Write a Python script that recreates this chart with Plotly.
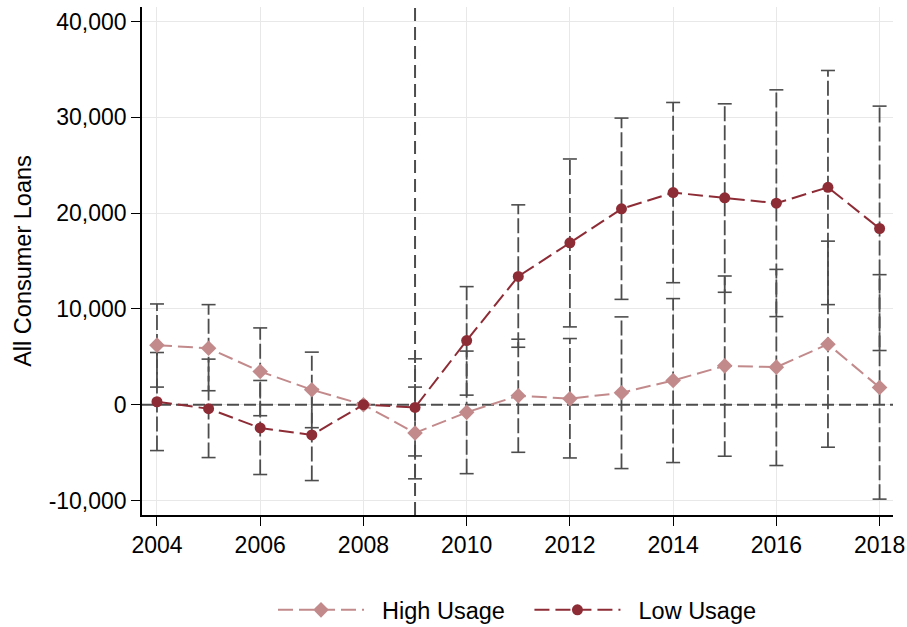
import plotly.graph_objects as go

# Event-study coefficients (year relative to 2008 baseline) with 95% CIs
years = list(range(2004, 2019))

high_usage = [6220, 5900, 3470, 1560, 0, -2950, -800, 940, 625, 1250, 2530, 4060, 3920, 6320, 1800]
high_lo = [1840, 1460, -1150, -2400, None, -7740, -7200, -4970, -5560, -6670, -6040, -5380, -6350, -4440, -9860]
high_hi = [10520, 10450, 8020, 5490, None, 1840, 5600, 6840, 6910, 9170, 11080, 13440, 14130, 17080, 13580]

low_usage = [310, -420, -2430, -3160, 0, -280, 6700, 13400, 16900, 20450, 22150, 21600, 21040, 22700, 18400]
low_lo = [-4790, -5520, -7290, -7920, None, -5350, 1000, 6000, 8125, 11000, 12740, 11740, 9200, 10450, 5660]
low_hi = [5450, 4760, 2530, 1600, None, 4790, 12330, 20870, 25660, 29930, 31560, 31420, 32880, 34900, 31180]

x_ticks = list(range(2004, 2019, 2))
y_ticks = [-10000, 0, 10000, 20000, 30000, 40000]
y_tick_text = ["-10,000", "0", "10,000", "20,000", "30,000", "40,000"]

X_RANGE = [2003.71, 2018.26]
Y_RANGE = [-11517, 41530]
EVENT_YEAR = 2009

HIGH_COLOR = "#C38A8C"
LOW_COLOR = "#8E2C36"
CI_COLOR = "#4D4D4D"
FONT = "Liberation Sans, Arial, Helvetica, sans-serif"
NBSP = "\u00a0"

fig = go.Figure()

# reference lines: zero effect and event year
fig.add_trace(go.Scatter(
    x=X_RANGE, y=[0, 0], mode="lines", showlegend=False, hoverinfo="skip",
    line=dict(color=CI_COLOR, width=2, dash="12px,5px"),
))
fig.add_trace(go.Scatter(
    x=[EVENT_YEAR, EVENT_YEAR], y=Y_RANGE, mode="lines", showlegend=False, hoverinfo="skip",
    line=dict(color=CI_COLOR, width=2, dash="13px,6px"),
))


def add_ci(lo, hi):
    # dashed vertical spans, one segment per year, separated by gaps
    xs, ys = [], []
    cx, cy = [], []
    for yr, a, b in zip(years, lo, hi):
        if a is None or b is None:
            continue
        xs += [yr, yr, None]
        ys += [a, b, None]
        cx += [yr, yr]
        cy += [a, b]
    fig.add_trace(go.Scatter(
        x=xs, y=ys, mode="lines", showlegend=False, hoverinfo="skip",
        line=dict(color=CI_COLOR, width=1.8, dash="15px,4px"),
    ))
    # caps at both ends
    fig.add_trace(go.Scatter(
        x=cx, y=cy, mode="markers", showlegend=False, hoverinfo="skip",
        marker=dict(symbol="line-ew", size=10, color=CI_COLOR,
                    line=dict(color=CI_COLOR, width=1.6)),
    ))


add_ci(high_lo, high_hi)
add_ci(low_lo, low_hi)

fig.add_trace(go.Scatter(
    x=years, y=high_usage, mode="lines+markers",
    name=NBSP * 2 + "High Usage" + NBSP * 3,
    line=dict(color=HIGH_COLOR, width=2, dash="15px,6px"),
    marker=dict(symbol="diamond", size=12, color=HIGH_COLOR),
))
fig.add_trace(go.Scatter(
    x=years, y=low_usage, mode="lines+markers",
    name=NBSP * 2 + "Low Usage",
    line=dict(color=LOW_COLOR, width=2, dash="15px,6px"),
    marker=dict(symbol="circle", size=11, color=LOW_COLOR),
))

fig.update_layout(
    width=907, height=627,
    margin=dict(l=142, r=14, t=7, b=112, autoexpand=False),
    paper_bgcolor="white", plot_bgcolor="white",
    font=dict(family=FONT, size=23, color="black"),
    showlegend=True,
    legend=dict(orientation="h", x=0.5, xanchor="center",
                yref="container", y=0.027, yanchor="middle",
                font=dict(size=23.5), itemwidth=86, bgcolor="rgba(0,0,0,0)"),
)
fig.update_xaxes(
    range=X_RANGE, tickvals=x_ticks, ticktext=[str(t) for t in x_ticks],
    showgrid=True, gridcolor="#E8E8E8", gridwidth=1,
    showline=True, linecolor="black", linewidth=1.5,
    ticks="outside", ticklen=9, tickwidth=1.2, tickcolor="black",
    tickfont=dict(size=23), zeroline=False, automargin=False,
)
fig.update_yaxes(
    range=Y_RANGE, tickvals=y_ticks, ticktext=y_tick_text,
    showgrid=True, gridcolor="#E8E8E8", gridwidth=1,
    showline=True, linecolor="black", linewidth=1.5,
    ticks="outside", ticklen=9, tickwidth=1.2, tickcolor="black",
    tickfont=dict(size=23), zeroline=False, automargin=False,
    title=dict(text="All Consumer Loans", font=dict(size=23.5), standoff=10),
)

fig.write_html("out.html")
